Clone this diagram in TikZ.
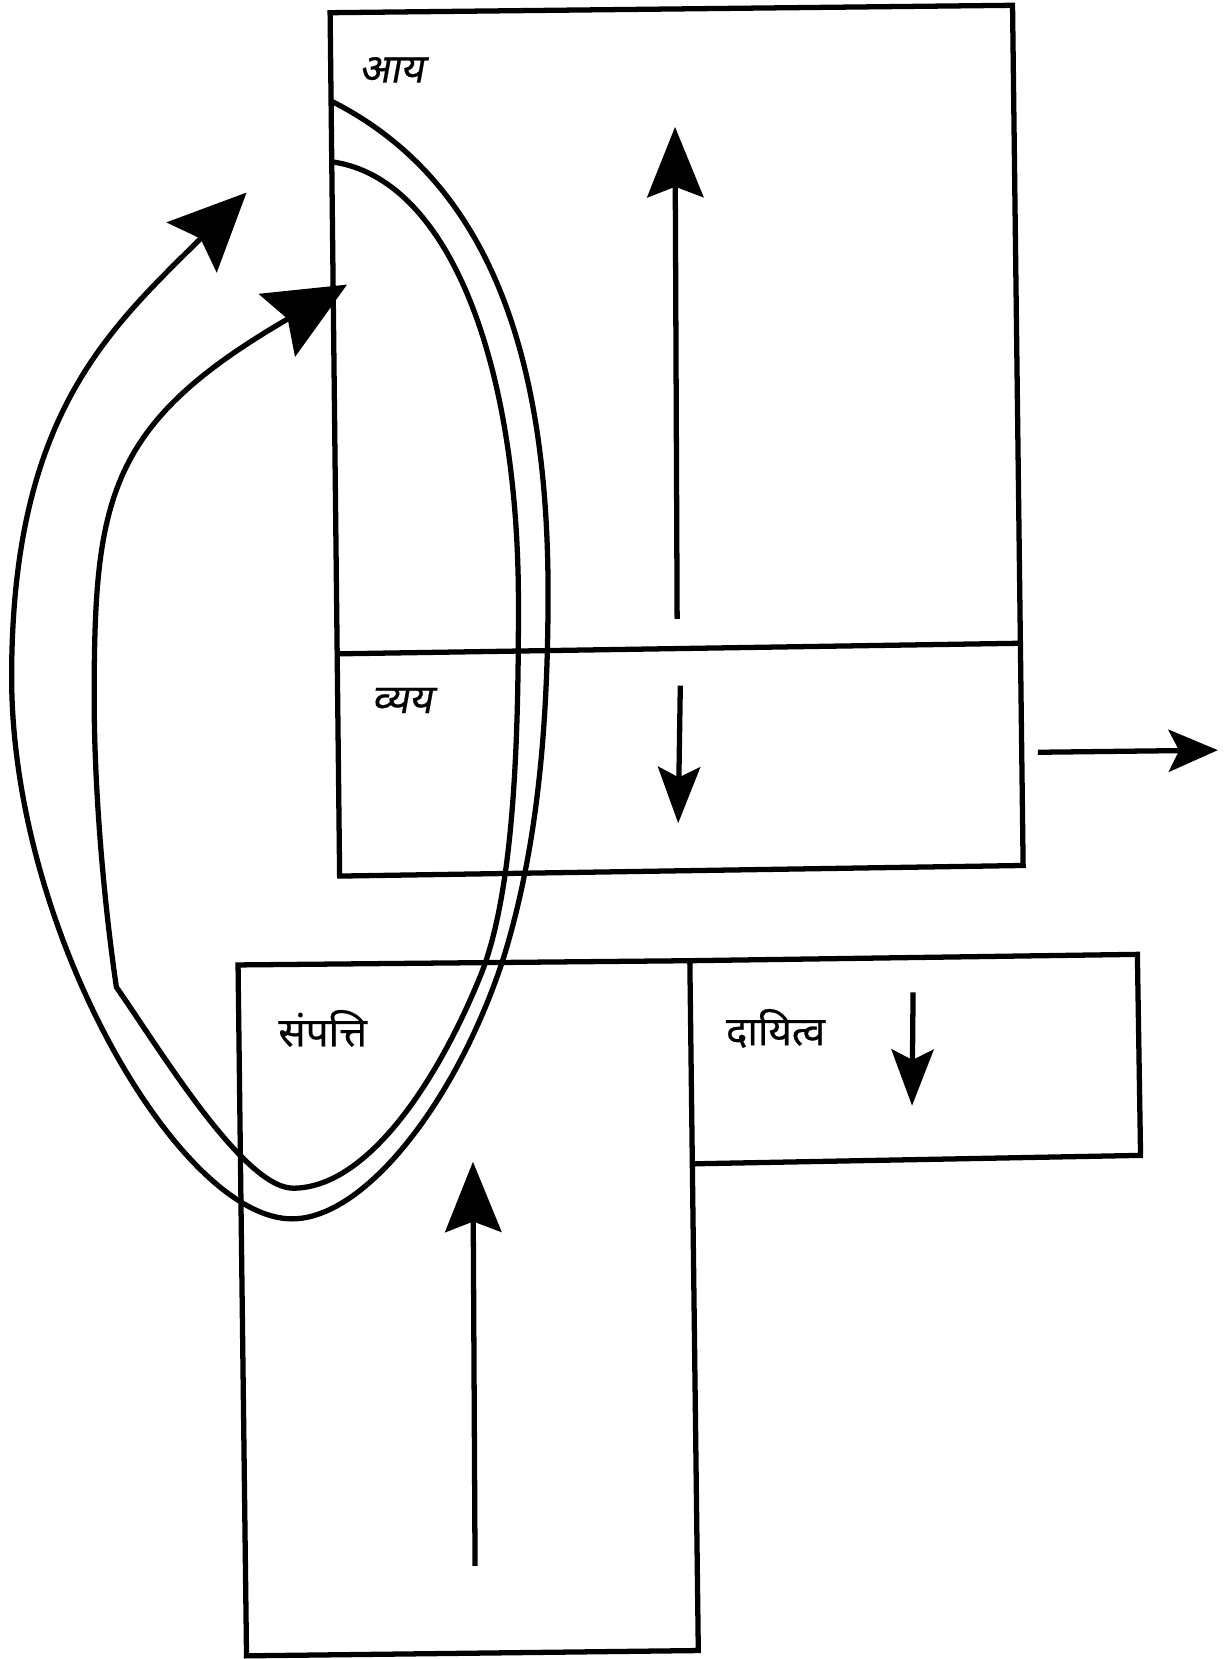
\documentclass[tikz,border=0pt]{standalone}
\usepackage{fontspec}
\newfontfamily\devfont[Script=Devanagari,FakeBold=0.5]{Noto Sans}
\newfontfamily\devslant[Script=Devanagari,FakeSlant=0.18,FakeBold=0.5]{Noto Sans}
\usetikzlibrary{arrows.meta}
\begin{document}
\begin{tikzpicture}[x=0.10579mm,y=-0.10579mm,line width=1.5pt,
  lbl/.style={font=\devfont\fontsize{11.5}{14}\selectfont,inner sep=0pt},
  lbls/.style={font=\devslant\fontsize{11.5}{14}\selectfont,inner sep=0pt},
  bigtip/.style={-{Stealth[length=20pt,width=16pt,inset=3pt]}},
  midtip/.style={-{Stealth[length=16pt,width=12pt,inset=3pt]}},
  smalltip/.style={-{Stealth[length=14pt,width=12pt,inset=3pt]}},
  outertip/.style={-{Stealth[length=22pt,width=20pt,inset=3.5pt]}},
  innertip/.style={-{Stealth[length=23pt,width=20.5pt,inset=3.5pt]}}]
\useasboundingbox (0,0) rectangle (1158,1568);
% upper box (income / expense)
\coordinate (tA) at (312,12);
\coordinate (tB) at (957,5);
\coordinate (tC) at (967,818);
\coordinate (tD) at (321,828);
\coordinate (dL) at (317,618);
\coordinate (dR) at (962,608);
\draw (tA) -- (tB) -- (tC) -- (tD) -- cycle;
\draw (dL) -- (dR);
% lower boxes (assets / liabilities)
\coordinate (aA) at (225,912);
\coordinate (aB) at (652,908);
\coordinate (aC) at (660,1560);
\coordinate (aD) at (233,1565);
\coordinate (lB) at (1075,902);
\coordinate (lC) at (1078,1092);
\coordinate (lD) at (654,1100);
\draw (aB) -- (aA) -- (aD) -- (aC) -- (aB) -- (lB) -- (lC) -- (lD);
% labels
\node[lbls] (aay) at (370,66) {आय};
\node[lbls] (vyay) at (380,662) {व्यय};
\node[lbl] (sampatti) at (305,972) {संपत्ति};
\node[lbl] (dayitva) at (733,972) {दायित्व};
% straight arrows
\coordinate (u1s) at (640,585);
\coordinate (u1e) at (638,120);
\coordinate (d1s) at (643,648);
\coordinate (d1e) at (641,778);
\coordinate (r1s) at (981,711);
\coordinate (r1e) at (1151,709);
\coordinate (d2s) at (863,938);
\coordinate (d2e) at (862,1045);
\coordinate (u2s) at (449,1480);
\coordinate (u2e) at (447,1098);
\draw[bigtip] (u1s) -- (u1e);
\draw[midtip] (d1s) -- (d1e);
\draw[smalltip] (r1s) -- (r1e);
\draw[midtip] (d2s) -- (d2e);
\draw[bigtip] (u2s) -- (u2e);
% loops
\coordinate (o1) at (314,96);
\coordinate (o2) at (233,182);
\coordinate (i1) at (314,153);
\coordinate (i2) at (328,269);
\draw[outertip] (o1)
  .. controls (448,164) and (518,310) .. (518,560)
  .. controls (518,675) and (510,795) .. (476,905)
  .. controls (433,1038) and (346,1152) .. (276,1152)
  .. controls (170,1152) and (11,880) .. (11,640)
  .. controls (11,390) and (105,310) .. (o2);
\draw[innertip] (i1)
  .. controls (423,168) and (490,340) .. (490,570)
  .. controls (490,680) and (488,836) .. (455,920)
  .. controls (414,1022) and (347,1123) .. (277,1123)
  .. controls (230,1123) and (150,990) .. (110,933)
  .. controls (97,844) and (89,740) .. (89,660)
  .. controls (89,470) and (102,400) .. (i2);
\end{tikzpicture}
\end{document}
